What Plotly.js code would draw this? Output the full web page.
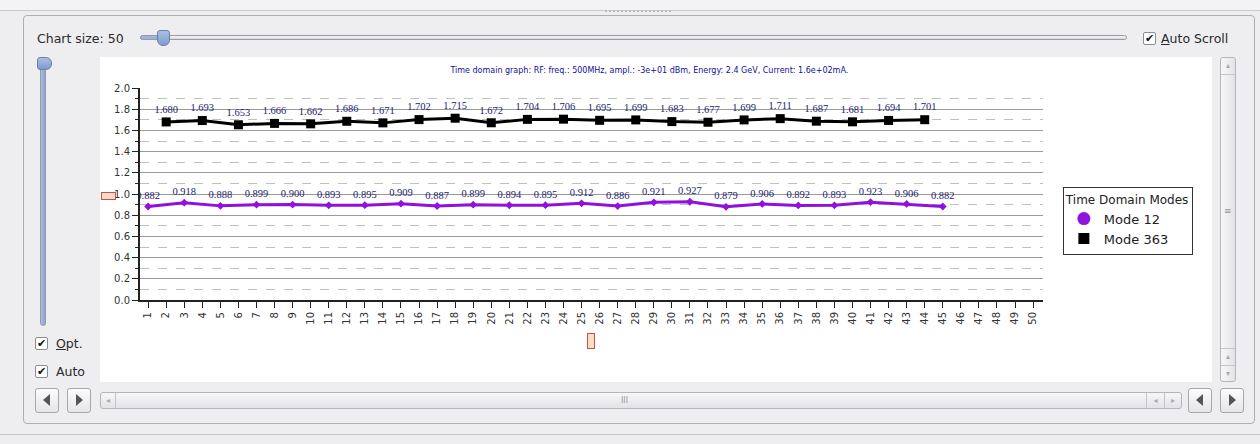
<!DOCTYPE html>
<html>
<head>
<meta charset="utf-8">
<script src="https://cdn.plot.ly/plotly-3.0.1.min.js"></script>
<style>
  html, body { margin:0; padding:0; }
  body { width:1260px; height:444px; background:#eeeef0; position:relative; overflow:hidden;
         font-family:"DejaVu Sans", sans-serif; color:#222; }
  .abs { position:absolute; }
  .topstrip { left:0; top:0; width:1260px; height:10px; background:#f3f3f5; border-bottom:1px solid #c9c9ce; }
  .splitter { left:605px; top:10px; width:68px; height:2px;
              background:repeating-linear-gradient(90deg,#b9b9c0 0 2px,transparent 2px 4px); }
  .frame { left:23px; top:15px; width:1230px; height:407px; border:1px solid #aeaeb3; border-radius:4px; }
  .lbl { font-size:12.5px; color:#2a2a2a; white-space:nowrap; }
  .track { background:linear-gradient(#f8f8f8,#d8d8dc); border:1px solid #9a9aa2; border-radius:3px; }
  .knob { background:linear-gradient(#a9c0e6,#7f9bcf); border:1px solid #6b7fa8; border-radius:4px; }
  .cb { width:11px; height:11px; border:1px solid #8c8c92; background:#fff; border-radius:2px;
        font-size:11px; line-height:11px; text-align:center; font-weight:bold; color:#111; }
  .btn { width:22px; height:23px; border:1px solid #a6a6ac; border-radius:3px;
         background:linear-gradient(#fbfbfb,#e6e6ea); }
  .arrowL { width:0; height:0; border-top:6px solid transparent; border-bottom:6px solid transparent;
            border-right:7px solid #555; position:absolute; left:7px; top:5px; }
  .arrowR { width:0; height:0; border-top:6px solid transparent; border-bottom:6px solid transparent;
            border-left:7px solid #555; position:absolute; left:8px; top:5px; }
  .hscroll { left:100px; top:392px; width:1080px; height:15px; border:1px solid #b4b4ba; border-radius:3px;
             background:linear-gradient(#f7f7f9,#e3e3e7); }
  .vscroll { left:1220px; top:57px; width:14px; height:323px; border:1px solid #b4b4ba; border-radius:3px;
             background:linear-gradient(90deg,#f7f7f9,#e3e3e7); }
  .redbox { border:1px solid #c8504a; background:#f8dcc8; }
  #chart { left:100px; top:57px; width:1112px; height:325px; background:#fff; }
</style>
</head>
<body>
<div class="abs topstrip"></div>
<div class="abs splitter"></div>
<div class="abs frame"></div>

<div class="abs lbl" style="left:37px; top:31px;">Chart size: 50</div>
<div class="abs track" style="left:140px; top:35px; width:985px; height:3px;"></div>
<div class="abs track" style="left:140px; top:35px; width:22px; height:3px; background:#9fb4dc;"></div>
<div class="abs knob" style="left:157px; top:30px; width:11px; height:14px; border-radius:3px 3px 6px 6px;"></div>

<div class="abs cb" style="left:1143px; top:32px;">✔</div>
<div class="abs lbl" style="left:1161px; top:31px;"><u>A</u>uto Scroll</div>

<div class="abs track" style="left:40px; top:62px; width:4px; height:262px; background:linear-gradient(90deg,#a9c0e6,#8aa3d2);"></div>
<div class="abs knob" style="left:37px; top:57px; width:13px; height:11px; border-radius:3px 6px 6px 3px;"></div>

<div class="abs cb" style="left:35px; top:337px;">✔</div>
<div class="abs lbl" style="left:56px; top:336px;"><u>O</u>pt.</div>
<div class="abs cb" style="left:35px; top:365px;">✔</div>
<div class="abs lbl" style="left:56px; top:364px;">Auto</div>

<div class="abs btn" style="left:35px; top:388px;"><div class="arrowL"></div></div>
<div class="abs btn" style="left:67px; top:388px;"><div class="arrowR"></div></div>
<div class="abs btn" style="left:1188px; top:388px;"><div class="arrowL"></div></div>
<div class="abs btn" style="left:1220px; top:388px;"><div class="arrowR"></div></div>

<div class="abs hscroll">
  <div class="abs" style="left:0; top:0; width:14px; height:15px; border-right:1px solid #c4c4ca; font-size:8px; color:#aaa; text-align:center; line-height:15px;">◂</div>
  <div class="abs" style="left:520px; top:0; font-size:8px; color:#999; line-height:15px;">III</div>
  <div class="abs" style="left:1045px; top:0; width:17px; height:15px; border-left:1px solid #c4c4ca; font-size:8px; color:#aaa; text-align:center; line-height:15px;">◂</div>
  <div class="abs" style="left:1063px; top:0; width:16px; height:15px; border-left:1px solid #c4c4ca; font-size:8px; color:#aaa; text-align:center; line-height:15px;">▸</div>
</div>
<div class="abs vscroll">
  <div class="abs" style="left:0; top:0; width:14px; height:16px; border-bottom:1px solid #c4c4ca; font-size:8px; color:#aaa; text-align:center; line-height:16px;">▴</div>
  <div class="abs" style="left:3px; top:148px; font-size:9px; color:#999;">≡</div>
  <div class="abs" style="left:0; top:290px; width:14px; height:16px; border-top:1px solid #c4c4ca; font-size:8px; color:#aaa; text-align:center; line-height:16px;">▴</div>
  <div class="abs" style="left:0; top:307px; width:14px; height:16px; border-top:1px solid #c4c4ca; font-size:8px; color:#aaa; text-align:center; line-height:16px;">▾</div>
</div>

<div class="abs" style="left:0; top:434px; width:1260px; height:1px; background:#c6c6cb;"></div>

<div id="chart" class="abs"></div>
<div class="abs redbox" style="left:101px; top:192px; width:13px; height:6px;"></div>
<div class="abs redbox" style="left:587px; top:333px; width:6px; height:14px;"></div>

<script>
// ---- data ----
const xTickLabels = Array.from({length:50}, (_, i) => String(i + 1));
const mode12X = [1,3,5,7,9,11,13,15,17,19,21,23,25,27,29,31,33,35,37,39,41,43,45];
const mode12Y = [0.882,0.918,0.888,0.899,0.900,0.893,0.895,0.909,0.887,0.899,0.894,0.895,0.912,0.886,0.921,0.927,0.879,0.906,0.892,0.893,0.923,0.906,0.882];
const mode363X = [2,4,6,8,10,12,14,16,18,20,22,24,26,28,30,32,34,36,38,40,42,44];
const mode363Y = [1.680,1.693,1.653,1.666,1.662,1.686,1.671,1.702,1.715,1.672,1.704,1.706,1.695,1.699,1.683,1.677,1.699,1.711,1.687,1.681,1.694,1.701];
const titleText = "Time domain graph: RF: freq.: 500MHz, ampl.: -3e+01 dBm, Energy: 2.4 GeV, Current: 1.6e+02mA.";

const labelFont = {family:"Liberation Serif, serif", size:10.5, color:"#1a2470"};
const purple = "#9010e0";

const traces = [
  {x: mode12X, y: mode12Y, mode:"lines+markers+text", showlegend:false,
   text: mode12Y.map(v => v.toFixed(3)), textposition:"top center", textfont: labelFont,
   line:{color:purple, width:3}, marker:{symbol:"diamond", size:6, color:purple}},
  {x: mode363X, y: mode363Y, mode:"lines+markers+text", showlegend:false,
   text: mode363Y.map(v => v.toFixed(3)), textposition:"top center", textfont: labelFont,
   line:{color:"#000", width:3}, marker:{symbol:"square", size:9, color:"#000"}},
  {x:[null], y:[null], mode:"markers", name:"Mode 12", marker:{symbol:"circle", size:13, color:purple}},
  {x:[null], y:[null], mode:"markers", name:"Mode 363", marker:{symbol:"square", size:11, color:"#000"}}
];

const layout = {
  width:1112, height:325,
  margin:{l:40, r:169, t:31, b:82},
  paper_bgcolor:"#fff", plot_bgcolor:"#fff",
  font:{family:"DejaVu Sans, sans-serif", size:10, color:"#333"},
  title:{text:titleText, font:{size:8, color:"#10109a", family:"DejaVu Sans, sans-serif"},
         xref:"container", x:0.494, xanchor:"center", yref:"container", y:0.96, yanchor:"middle"},
  xaxis:{range:[0.55, 50.55], tickmode:"array", tickvals:xTickLabels.map(Number), ticktext:xTickLabels,
         tickangle:-90, ticks:"outside", ticklen:6, tickwidth:1, tickcolor:"#222",
         showgrid:false, zeroline:false, showline:true, linecolor:"#222", linewidth:2,
         tickfont:{size:10, color:"#333"}},
  yaxis:{range:[0, 2], tickmode:"linear", tick0:0, dtick:0.2, tickformat:".1f",
         ticks:"outside", ticklen:6, tickcolor:"#222", showline:true, linecolor:"#222", linewidth:2,
         showgrid:true, gridcolor:"#9a9a9a", gridwidth:1, zeroline:false,
         tickfont:{size:10, color:"#333"},
         minor:{dtick:0.1, showgrid:true, gridcolor:"#c0c0c0", griddash:"dash", gridwidth:1,
                ticks:"outside", ticklen:3, tickcolor:"#222"}},
  showlegend:true,
  legend:{x:1.022, xanchor:"left", y:0.533, yanchor:"top", bgcolor:"#fff",
          bordercolor:"#333", borderwidth:1, font:{size:13, color:"#222"},
          title:{text:"Time Domain Modes", font:{size:12, color:"#222"}},
          tracegroupgap:0, itemwidth:30}
};

Plotly.newPlot("chart", traces, layout, {staticPlot:true, displayModeBar:false});
</script>
</body>
</html>
